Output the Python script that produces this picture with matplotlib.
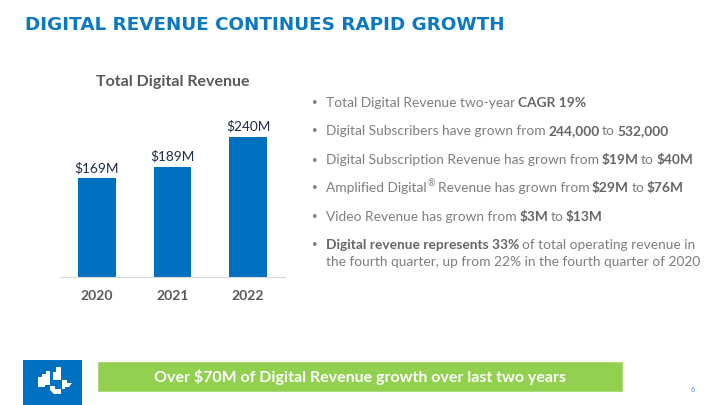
import matplotlib
matplotlib.use("Agg")
import matplotlib.pyplot as plt
from matplotlib.patches import Rectangle, Polygon

# data
years = ["2020", "2021", "2022"]
revenue = [169, 189, 240]
value_labels = ["$169M", "$189M", "$240M"]

title = "DIGITAL REVENUE CONTINUES RAPID GROWTH"
chart_title = "Total Digital Revenue"
banner = "Over $70M of Digital Revenue growth over last two years"

# each bullet = list of lines, each line = list of (text, bold)
bullets = [
    [[("Total Digital Revenue two-year", False), ("CAGR 19%", True)]],
    [[("Digital Subscribers have grown from", False), ("244,000", True), ("to", False), ("532,000", True)]],
    [[("Digital Subscription Revenue has grown from", False), ("$19M", True), ("to", False), ("$40M", True)]],
    [[("Amplified Digital", False), ("®", "sup"), ("Revenue has grown from", False), ("$29M", True), ("to", False), ("$76M", True)]],
    [[("Video Revenue has grown from", False), ("$3M", True), ("to", False), ("$13M", True)]],
    [[("Digital revenue represents 33%", True), ("of total operating revenue in", False)],
     [("the fourth quarter, up from 22% in the fourth quarter of 2020", False)]],
]

W, H = 720, 405
blue = "#0B78C2"
bar_blue = "#0070C0"
gray_txt = "#7F7F7F"
gray_bold = "#666666"

fig = plt.figure(figsize=(7.2, 4.05), dpi=100)
fig.patch.set_facecolor("white")

def fx(x):
    return x / W

def fy(y):
    return 1 - y / H

# page title
fig.text(fx(25), fy(25), title, fontsize=13.2, fontweight="bold", color=blue,
         family="DejaVu Sans", va="center", ha="left")

# bar chart
ax = fig.add_axes([fx(60), fy(277), (285 - 60) / W, (277 - 110) / H])
x = range(len(years))
ax.bar(x, revenue, width=0.5, color=bar_blue, zorder=2)
ax.set_xlim(-0.49, 2.49)
ax.set_ylim(0, 286)
for s in ["top", "right", "left"]:
    ax.spines[s].set_visible(False)
ax.spines["bottom"].set_color("#D9D9D9")
ax.set_yticks([])
ax.set_xticks(list(x))
ax.set_xticklabels(years, fontsize=10, fontweight="bold", color="#595959", family="Lato")
ax.tick_params(axis="x", length=0, pad=9)
for i, v in enumerate(revenue):
    ax.annotate(value_labels[i], (i, v), xytext=(0, 3), textcoords="offset points",
                ha="center", va="bottom", fontsize=9.8, color="#1F2D4D", family="Lato")

fig.text(fx(173), fy(82), chart_title, fontsize=11.5, fontweight="bold", color="#595959",
         family="Lato", ha="center", va="center")

# bullets with mixed bold runs
renderer = fig.canvas.get_renderer()
fs = 9.95

def width_of(s, weight, size=fs):
    t = fig.text(0, 0, s, fontsize=size, fontweight=weight, family="Lato")
    w = t.get_window_extent(renderer).width
    t.remove()
    return w

space_w = width_of("n n", "normal") - 2 * width_of("n", "normal") - 1

line_y = [103, 131, 160, 188, 217, 245]
line_gap = 16.8
for b, y0 in zip(bullets, line_y):
    fig.text(fx(315), fy(y0), "•", fontsize=7, color=gray_txt, family="Lato",
             ha="center", va="center")
    for li, line in enumerate(b):
        xp = 326
        yp = y0 + li * line_gap
        for k, (txt, bold) in enumerate(line):
            if bold == "sup":
                t = fig.text(fx(xp + 0.5), fy(yp - 4), txt, fontsize=6.5, color=gray_txt,
                             family="Lato", va="center", ha="left")
                xp += t.get_window_extent(renderer).width + space_w + 1
                continue
            weight = "bold" if bold else "normal"
            col = gray_bold if bold else gray_txt
            t = fig.text(fx(xp), fy(yp), txt, fontsize=fs, fontweight=weight, color=col,
                         family="Lato", va="center", ha="left")
            xp += t.get_window_extent(renderer).width
            nxt = line[k + 1][1] if k + 1 < len(line) else None
            if nxt != "sup":
                xp += space_w

# bottom banner
fig.patches.append(Rectangle((fx(98), fy(391)), (622 - 98) / W, (391 - 362) / H,
                             transform=fig.transFigure, facecolor="#92D050",
                             edgecolor="#A9DC7A", linewidth=0.8))
fig.text(fx(360), fy(377), banner, fontsize=11.5, fontweight="bold", color="white",
         family="Lato", ha="center", va="center")

# logo
lax = fig.add_axes([fx(23), 0, (82 - 23) / W, (405 - 360) / H])
lax.set_xlim(23, 82)
lax.set_ylim(405, 360)
lax.set_facecolor(bar_blue)
lax.set_xticks([])
lax.set_yticks([])
for s in lax.spines.values():
    s.set_visible(False)
shapes = [
    [(38, 377), (42, 377), (42, 374), (46, 374), (46, 371), (50, 371), (50, 385), (45, 385), (45, 387), (38, 387)],
    [(53, 380), (53, 372), (56, 372), (56, 367), (61, 367), (61, 380)],
    [(62, 380), (67, 380), (67, 383), (72, 383), (69, 387), (65, 387), (65, 389), (62, 389)],
    [(50, 386), (55, 386), (55, 389), (61, 389), (61, 394), (54, 394), (50, 390)],
]
for pts in shapes:
    lax.add_patch(Polygon(pts, closed=True, facecolor="white", edgecolor="none"))

fig.text(fx(693), fy(390), "6", fontsize=5.5, color="#5B9BD5", family="Lato",
         ha="center", va="center")

fig.savefig("out.png", dpi=100)
